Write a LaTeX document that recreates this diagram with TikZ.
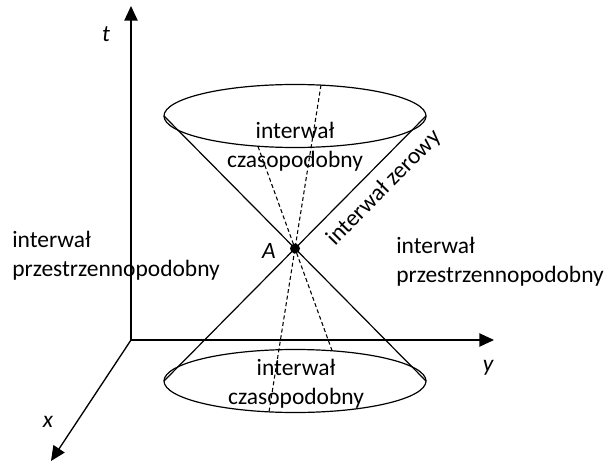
\documentclass[tikz,border=0pt]{standalone}
\usepackage{fontspec}
\setmainfont{Carlito}
\usetikzlibrary{arrows.meta}

\begin{document}
\begin{tikzpicture}[x=0.75pt, y=-0.75pt,
    axis/.style={line width=1pt, -{Triangle[length=11pt,width=10pt]}},
    cone/.style={line width=0.9pt},
    worldline/.style={line width=0.8pt, dash pattern=on 3pt off 2pt},
    txt/.style={font=\fontsize{17.6}{21.75}\selectfont, inner sep=0pt},
    axlabel/.style={txt, font=\fontsize{17.6}{21.75}\selectfont\itshape}]
    \useasboundingbox (0,0) rectangle (609,463);

    % axes
    \coordinate (O) at (131,340);
    \coordinate (T) at (131,6);
    \coordinate (Y) at (494,340);
    \coordinate (X) at (51,461);
    \draw[axis] (O) -- (T);
    \draw[axis] (O) -- (Y);
    \draw[axis] (O) -- (X);
    \node[axlabel] (tlab) at (106,34) {t};
    \node[axlabel] (ylab) at (488,368) {y};
    \node[axlabel] (xlab) at (48,422) {x};

    % light cone
    \coordinate (A) at (295,248.5);
    \coordinate (UL) at (164,116);
    \coordinate (UR) at (426,116);
    \coordinate (LL) at (164,381);
    \coordinate (LR) at (426,381);
    \draw[cone] (295,116) ellipse (131 and 31.5);
    \draw[cone] (295,381) ellipse (131 and 31.5);
    \draw[cone] (UL) -- (A) -- (LR);
    \draw[cone] (UR) -- (A) -- (LL);

    % timelike world lines through A
    \coordinate (W1a) at (321,85);
    \coordinate (W1b) at (269,412);
    \coordinate (W2a) at (258,146.5);
    \coordinate (W2b) at (332,350.5);
    \draw[worldline] (W1a) -- (A) -- (W1b);
    \draw[worldline] (W2a) -- (A) -- (W2b);

    \fill (A) circle (5);
    \node[axlabel] (alab) at (269,251) {A};

    % regions (base = last line)
    \node[txt, align=center, anchor=base] (future) at (295,168) {interwał\\czasopodobny};
    \node[txt, align=center, anchor=base] (past) at (296,404) {interwał\\czasopodobny};
    \node[txt, align=left, anchor=base west] (left) at (12,276) {interwał\\przestrzennopodobny};
    \node[txt, align=left, anchor=base west] (right) at (396,282) {interwał\\przestrzennopodobny};
    \node[txt, rotate=45.5, anchor=base west] (null) at (335,247) {interwał zerowy};
\end{tikzpicture}
\end{document}
